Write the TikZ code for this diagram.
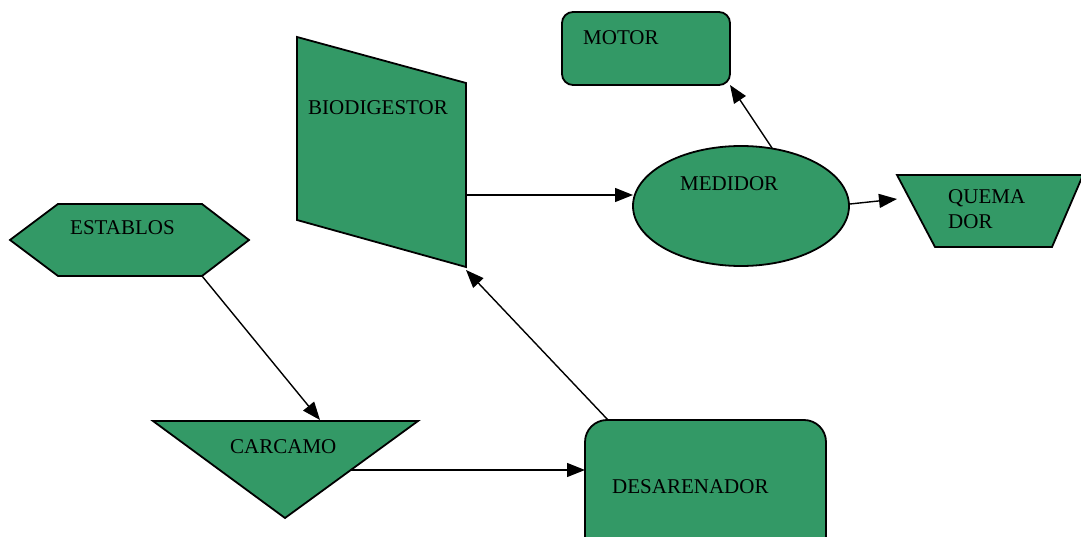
\documentclass[tikz,border=0pt]{standalone}
\usepackage{fontspec}
\setmainfont{Liberation Serif}
\usetikzlibrary{arrows.meta}
\definecolor{shapegreen}{HTML}{339966}
\tikzset{
  gshape/.style={draw=black,fill=shapegreen,line width=1.8pt,line join=miter},
  lbl/.style={anchor=base west,inner sep=0pt,font=\fontsize{21}{25}\selectfont,align=left},
  conn/.style={line width=1.4pt,-{Triangle[length=18pt,width=14pt]}}
}
\begin{document}
\begin{tikzpicture}[x=1pt,y=-1pt]
\useasboundingbox (0,0) rectangle (1081,537);
\clip (0,0) rectangle (1081,537);
% shapes
\draw[gshape,rounded corners=11pt] (562,12) rectangle (730,85);
\draw[gshape] (297,37) -- (466,83) -- (466,267) -- (297,220) -- cycle;
\draw[gshape] (741,206) ellipse [x radius=108, y radius=60];
\draw[gshape] (897,175) -- (1083,175) -- (1052,247) -- (935,247) -- cycle;
\draw[gshape] (10,240) -- (58,204) -- (202,204) -- (249,240) -- (202,276) -- (58,276) -- cycle;
\draw[gshape] (153,421) -- (418,421) -- (285,518) -- cycle;
\draw[gshape,rounded corners=22pt] (585,560) -- (585,420) -- (826,420) -- (826,560);
% labels
\node[lbl] (motor) at (583,45) {MOTOR};
\node[lbl] (bio) at (308,115) {BIODIGESTOR};
\node[lbl] (med) at (680,191) {MEDIDOR};
\node[lbl] (quem) at (948,229) {QUEMA\\DOR};
\node[lbl] (est) at (70,235) {ESTABLOS};
\node[lbl] (carc) at (230,453) {CARCAMO};
\node[lbl] (des) at (612,493) {DESARENADOR};
% connector endpoints
\coordinate (estOut) at (202,276);
\coordinate (carcIn) at (320,420);
\coordinate (carcOut) at (350,470);
\coordinate (desIn) at (585,470);
\coordinate (desOut) at (608,420);
\coordinate (bioIn) at (466,270);
\coordinate (bioOut) at (466,195);
\coordinate (medIn) at (633,195);
\coordinate (medOutA) at (772,148);
\coordinate (motorIn) at (730,85);
\coordinate (medOutB) at (850,204);
\coordinate (quemIn) at (897,199);
% connectors
\draw[conn] (estOut) -- (carcIn);
\draw[conn] (carcOut) -- (desIn);
\draw[conn] (desOut) -- (bioIn);
\draw[conn] (bioOut) -- (medIn);
\draw[conn] (medOutA) -- (motorIn);
\draw[conn] (medOutB) -- (quemIn);
\end{tikzpicture}
\end{document}
